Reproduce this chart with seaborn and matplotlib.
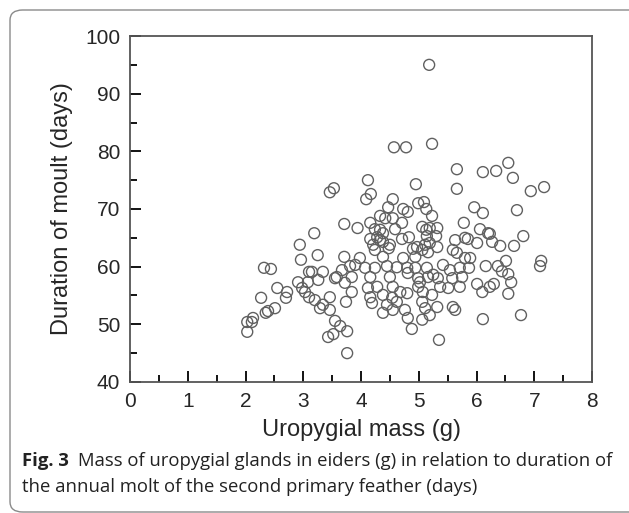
import matplotlib
matplotlib.use('Agg')
import matplotlib.pyplot as plt
import seaborn as sns
import pandas as pd
from matplotlib.patches import FancyBboxPatch
from matplotlib.ticker import MultipleLocator

# uropygial gland mass (g) and moult duration (days)
mass = [
    2.94, 3.25, 2.96, 3.71, 2.32, 2.44, 3.10, 3.15, 3.34, 3.58, 3.55, 3.67, 3.81, 3.84,
    3.26, 2.91, 3.08, 3.72, 2.55, 2.72, 2.98, 3.03, 3.84, 2.27, 2.70, 3.10, 3.20, 3.46,
    3.34, 3.74, 2.51, 2.39, 2.35, 3.29, 3.46, 2.13, 2.03, 2.11, 3.55, 3.64, 2.03, 3.43,
    3.52, 3.76, 3.76,
    3.46, 3.53, 3.71, 3.19, 3.94,
    5.18,
    4.57, 4.78, 5.23, 5.66, 5.66, 4.12, 4.95, 4.17, 4.09, 4.55, 4.99, 5.09, 4.47, 4.73,
    4.81, 5.13, 5.23, 4.33, 4.42, 4.55, 4.71, 5.78, 4.16, 4.24, 4.33, 4.38, 4.59, 5.06,
    5.13, 5.19, 5.32, 4.16, 4.28, 4.33, 4.38, 4.71, 4.83, 5.14, 5.30, 5.63, 5.80, 5.19,
    4.97, 5.11, 5.32, 4.21, 4.50,
    4.24, 4.48, 4.90, 5.06, 5.16, 5.59, 5.66, 5.80, 3.98, 4.38, 4.73, 4.94,
    3.90, 4.07, 4.24, 4.45, 4.62, 4.80, 4.94, 5.14, 5.25, 5.42, 5.54, 5.71, 4.16, 4.50,
    4.81, 4.99, 5.16, 5.33, 5.58, 5.75,
    4.12, 4.28, 4.38, 4.55, 4.68, 4.80, 5.02, 4.99, 5.07, 5.23, 5.37, 5.51, 5.71, 4.16,
    4.54, 4.19, 4.45, 4.62, 4.55, 4.76, 5.06, 5.11, 5.32, 5.59, 5.63, 4.38, 4.81, 5.06,
    5.19, 4.88, 5.35,
    6.55, 6.11, 6.34, 6.63, 6.94, 7.17, 5.96, 6.11, 6.70, 6.06, 6.20, 6.23, 6.81, 5.85,
    6.01, 6.27, 6.41, 6.65,
    5.89, 5.87, 6.16, 6.37, 6.51, 6.44, 6.55, 6.60, 7.12, 7.10, 6.01, 6.10, 6.23, 6.30,
    6.55, 6.11, 6.77,
]
duration = [
    63.8, 62.0, 61.2, 61.7, 59.8, 59.6, 59.1, 59.1, 59.1, 58.2, 58.0, 59.4, 60.1, 58.2,
    57.7, 57.3, 57.3, 57.2, 56.3, 55.6, 56.3, 55.6, 55.6, 54.6, 54.6, 54.7, 54.2, 54.7,
    53.4, 53.9, 52.8, 52.3, 52.0, 52.8, 52.5, 51.1, 50.4, 50.4, 50.6, 49.7, 48.7, 47.8,
    48.3, 48.8, 45.0,
    72.9, 73.6, 67.4, 65.8, 66.7,
    95.0,
    80.7, 80.7, 81.3, 76.9, 73.5, 75.0, 74.3, 72.6, 71.7, 71.7, 71.0, 71.2, 70.3, 70.0,
    69.5, 70.0, 68.8, 68.8, 68.4, 68.4, 67.6, 67.6, 67.6, 66.5, 66.4, 65.8, 66.5, 66.9,
    66.4, 66.7, 66.7, 64.8, 65.1, 64.6, 64.3, 64.8, 65.1, 65.3, 65.3, 64.6, 65.0, 64.1,
    63.4, 63.8, 63.4, 63.8, 63.8,
    62.9, 63.2, 63.1, 62.9, 62.5, 62.9, 62.4, 61.5, 61.5, 61.7, 61.5, 61.7,
    60.3, 59.8, 59.8, 60.1, 59.9, 59.8, 59.8, 59.8, 58.6, 60.3, 59.4, 59.8, 58.2, 58.2,
    58.9, 58.0, 58.2, 58.0, 58.0, 58.2,
    56.3, 56.5, 55.1, 56.5, 55.6, 55.4, 57.3, 56.5, 55.6, 55.1, 56.5, 56.3, 56.5, 54.7,
    54.6, 53.7, 53.4, 53.9, 52.5, 52.5, 53.9, 52.8, 53.0, 53.0, 52.5, 52.0, 51.1, 50.8,
    51.6, 49.2, 47.3,
    78.0, 76.4, 76.6, 75.4, 73.1, 73.8, 70.3, 69.3, 69.8, 66.5, 65.8, 65.7, 65.3, 64.8,
    64.1, 64.3, 63.6, 63.6,
    61.5, 59.8, 60.1, 60.1, 61.0, 59.2, 58.7, 57.3, 61.0, 60.1, 57.0, 55.6, 56.5, 57.0,
    55.3, 50.9, 51.6,
]

df = pd.DataFrame({'mass': mass, 'duration': duration})

sns.set_style('white')
plt.rcParams['font.family'] = ['Liberation Sans', 'DejaVu Sans']

fig = plt.figure(figsize=(6.29, 5.13), dpi=100)
ax = fig.add_axes([0.2067, 0.2554, 0.7345, 0.6744])

sns.scatterplot(data=df, x='mass', y='duration', ax=ax, s=62,
                facecolor='none', edgecolor='#606060', linewidth=1.0, legend=False)

ax.set_xlim(0, 8)
ax.set_ylim(40, 100)
ax.xaxis.set_major_locator(MultipleLocator(1))
ax.xaxis.set_minor_locator(MultipleLocator(0.5))
ax.yaxis.set_major_locator(MultipleLocator(10))
ax.yaxis.set_minor_locator(MultipleLocator(5))
ax.tick_params(which='both', direction='in', color='black', width=1.3,
               top=False, right=False, bottom=True, left=True)
ax.tick_params(which='major', length=8, labelsize=15, pad=7)
ax.tick_params(which='minor', length=5)
for sp in ax.spines.values():
    sp.set_color('#555555')
    sp.set_linewidth(1.3)

ax.set_xlabel('Uropygial mass (g)', fontsize=17, labelpad=6)
ax.set_ylabel('Duration of moult (days)', fontsize=17, labelpad=9)

# caption frame
frame = FancyBboxPatch((10 / 629, 1 / 513), 700 / 629, 502 / 513,
                       boxstyle='round,pad=0,rounding_size=0.02',
                       transform=fig.transFigure, fill=False,
                       edgecolor='#8a8a8a', linewidth=1.0, clip_on=False)
fig.patches.append(frame)

cap_font = ['Open Sans', 'DejaVu Sans']
cap_size = 13.3
fig.text(22 / 629, 1 - 461 / 513, 'Fig. 3', fontsize=cap_size, fontweight='bold',
         family=cap_font, color='#222222', va='center')
fig.text(78 / 629, 1 - 461 / 513,
         'Mass of uropygial glands in eiders (g) in relation to duration of',
         fontsize=cap_size, family=cap_font, color='#222222', va='center')
fig.text(22 / 629, 1 - 487 / 513,
         'the annual molt of the second primary feather (days)',
         fontsize=cap_size, family=cap_font, color='#222222', va='center')

fig.savefig('out.png', dpi=100)
